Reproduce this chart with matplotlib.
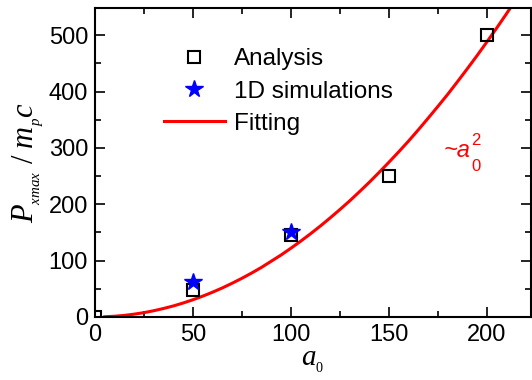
import matplotlib
matplotlib.use("Agg")
import matplotlib.pyplot as plt
from matplotlib.ticker import MultipleLocator

plt.rcParams['font.family'] = ['Liberation Sans', 'DejaVu Sans']
plt.rcParams['mathtext.fontset'] = 'custom'
plt.rcParams['mathtext.rm'] = 'Liberation Serif'
plt.rcParams['mathtext.it'] = 'Liberation Serif:italic'

# Data
analysis_a0 = [0, 50, 100, 150, 200]
analysis_p = [0, 48, 145, 250, 500]
sim_a0 = [50, 100]
sim_p = [62, 150]
fit_a0 = [5, 10, 15, 20, 25, 30, 35, 40, 45, 50, 55, 60, 65, 70, 75, 80, 85, 90,
          95, 100, 105, 110, 115, 120, 125, 130, 135, 140, 145, 150, 155, 160,
          165, 170, 175, 180, 185, 190, 195, 200, 205, 210, 215, 220, 225]
fit_p = [0.3, 1.2, 2.7, 4.9, 7.6, 11, 15, 19.5, 24.7, 30.5, 36.9, 43.9, 51.5,
         59.8, 68.6, 78, 88, 99, 110, 122, 134.5, 147.6, 161.3, 175.7, 190.6,
         206, 222.3, 239, 256.5, 274.5, 293, 312, 332, 352.6, 373.6, 395, 417.5,
         440.4, 463.8, 488, 512.6, 538, 564, 590, 618]

fig = plt.figure(figsize=(5.32, 3.8), dpi=100)
ax = fig.add_axes([0.1786, 0.166, 0.8194, 0.814])

ax.plot(fit_a0, fit_p, color='red', lw=2.2, label='Fitting', zorder=2)
ax.plot(analysis_a0, analysis_p, ls='none', marker='s', ms=8.5, mfc='none',
        mec='black', mew=1.5, label='Analysis', zorder=3)
ax.plot(sim_a0, sim_p, ls='none', marker='*', ms=13, color='blue',
        label='1D simulations', zorder=4)

ax.set_xlim(0, 222.5)
ax.set_ylim(0, 549)
ax.xaxis.set_major_locator(MultipleLocator(50))
ax.xaxis.set_minor_locator(MultipleLocator(25))
ax.yaxis.set_major_locator(MultipleLocator(100))
ax.yaxis.set_minor_locator(MultipleLocator(50))
ax.tick_params(which='both', direction='in', top=True, right=True,
               labelsize=17, width=1.2)
ax.tick_params(which='major', length=7, pad=5)
ax.tick_params(which='minor', length=4)
for s in ax.spines.values():
    s.set_linewidth(1.5)

ax.set_xlabel(r'$a_{_0}$', fontsize=21, labelpad=1)
ax.set_ylabel(r'$P_{_{xmax}}\ /\ m_{_p}c$', fontsize=22, labelpad=2)

handles, labels = ax.get_legend_handles_labels()
order = [1, 2, 0]
ax.legend([handles[i] for i in order], [labels[i] for i in order],
          loc='upper left', bbox_to_anchor=(0.158, 0.868), frameon=False,
          fontsize=17.5, handlelength=2.5, handletextpad=0.4, labelspacing=0.42,
          borderaxespad=0, borderpad=0)

t1 = ax.text(178, 296, '~a', color='red', fontsize=17, ha='left',
             va='center', style='italic')
ax.annotate('0', xy=(1, 0), xycoords=t1, xytext=(0.5, 2),
            textcoords='offset points', color='red', fontsize=12,
            ha='left', va='top')
ax.annotate('2', xy=(1, 1), xycoords=t1, xytext=(0.5, -1),
            textcoords='offset points', color='red', fontsize=12,
            ha='left', va='center')

fig.savefig('out.png', dpi=100)
